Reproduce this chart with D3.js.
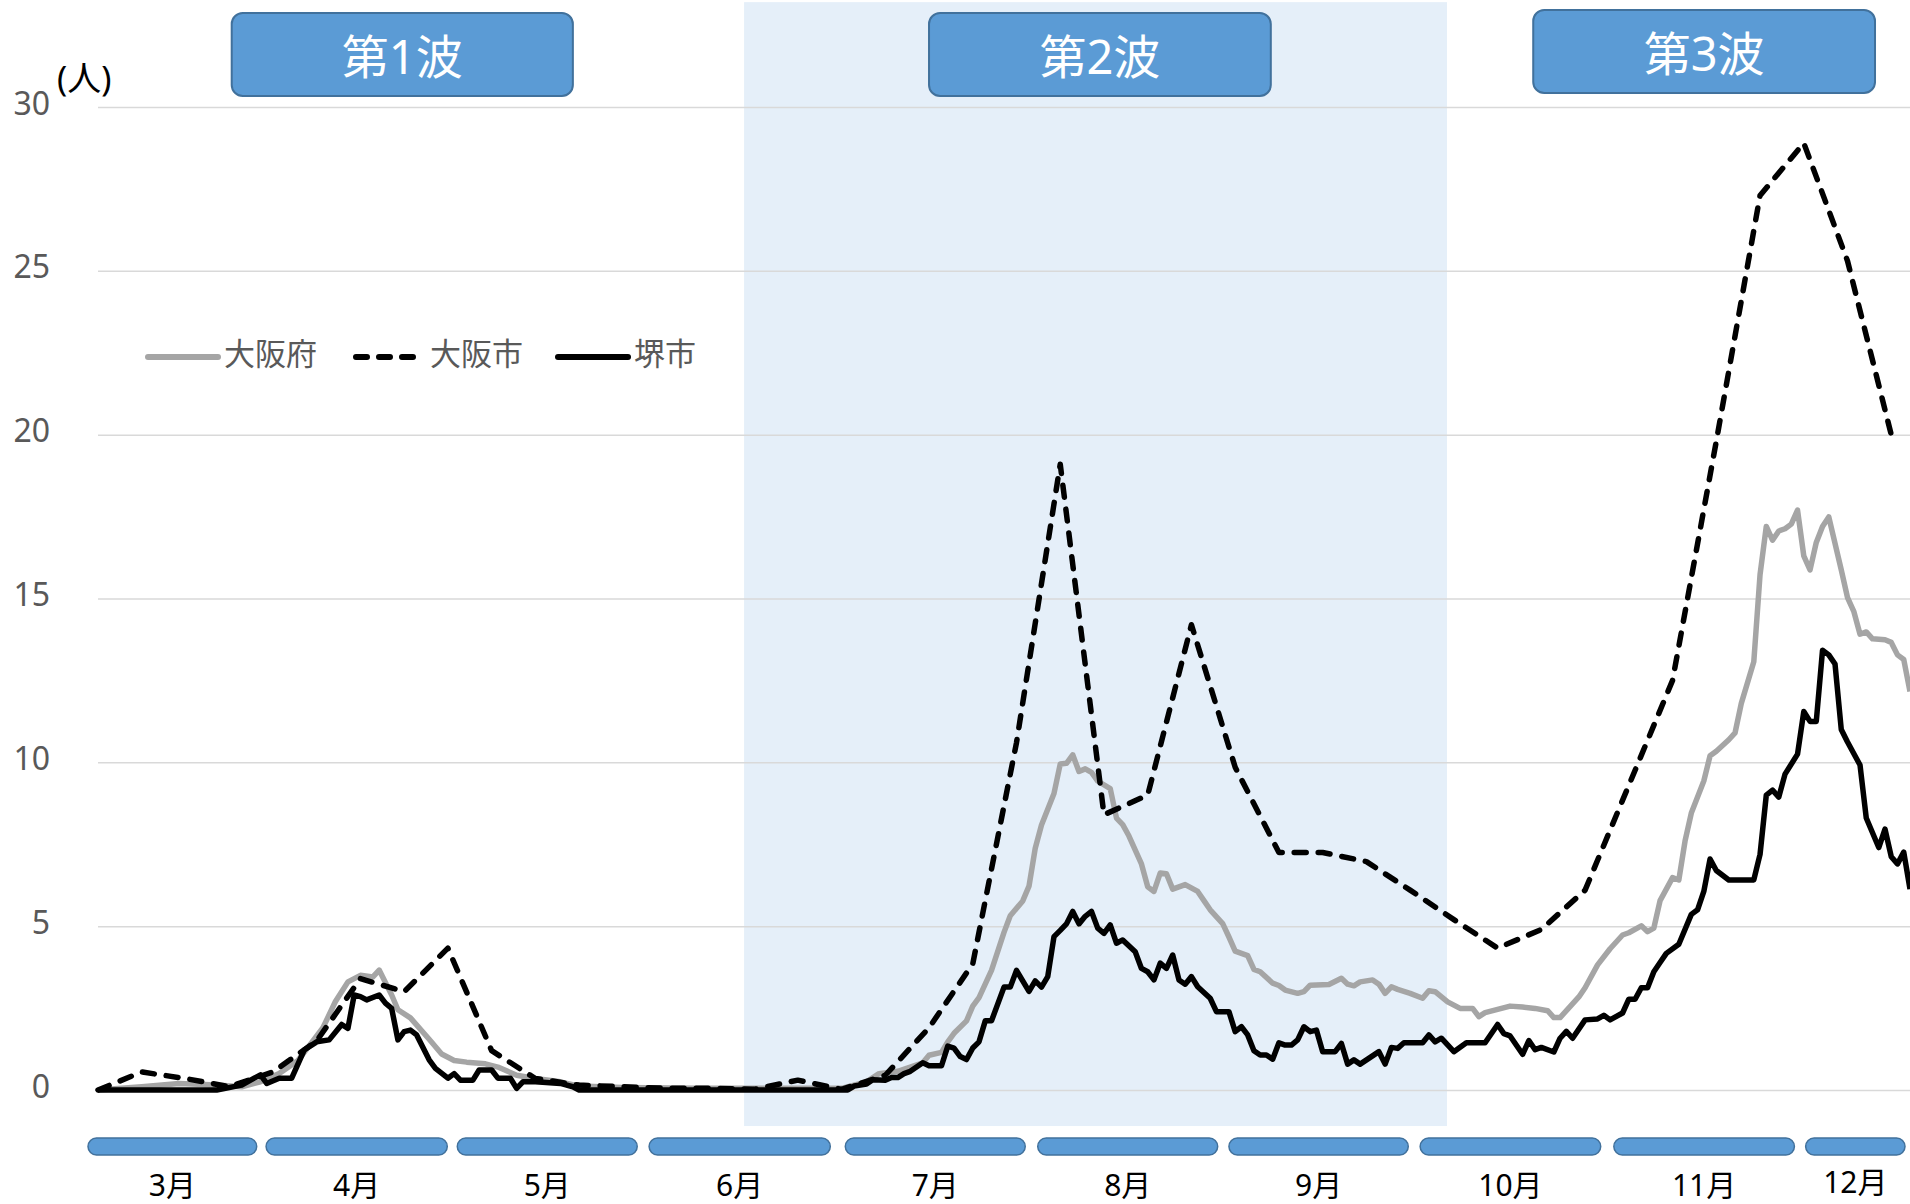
<!DOCTYPE html>
<html>
<head>
<meta charset="utf-8">
<script src="https://cdn.jsdelivr.net/npm/d3@7"></script>
<style>
  body { margin: 0; background: #fff; }
</style>
</head>
<body>
<script>
// 日付は 0 = 系列の始まり（日単位）
const fuData = [[0,0],[7,0.1],[13,0.2],[19,0.15],[23,0.1],[26,0.25],[29,0.5],[32,0.9],[34,1.4],[36,1.9],[38,2.7],[40,3.3],[42,3.5],[44,3.45],[45,3.66],[47,2.9],[48,2.45],[50,2.2],[53,1.55],[55,1.1],[57,0.9],[59,0.85],[62,0.8],[64,0.7],[67,0.45],[70,0.35],[74,0.25],[77,0.12],[84,0.08],[96,0.05],[106,0.05],[119,0.05],[123,0.25],[125,0.5],[128,0.57],[132,0.83],[133,1.06],[135,1.15],[136,1.47],[137,1.73],[139,2.11],[140,2.56],[141,2.82],[143,3.65],[145,4.81],[146,5.32],[148,5.77],[149,6.22],[150,7.38],[151,8.09],[153,9.05],[154,9.95],[155,9.97],[156,10.23],[157,9.72],[158,9.8],[159,9.69],[160,9.43],[162,9.2],[163,8.3],[164,8.1],[165,7.75],[167,6.9],[168,6.2],[169,6.06],[170,6.62],[171,6.6],[172,6.13],[174,6.27],[176,6.06],[177,5.78],[178,5.5],[180,5.08],[181,4.67],[182,4.24],[184,4.1],[185,3.68],[186,3.61],[188,3.26],[189,3.19],[190,3.05],[192,2.95],[193,3.0],[194,3.2],[197,3.22],[199,3.41],[200,3.23],[201,3.18],[202,3.3],[204,3.36],[205,3.23],[206,2.95],[207,3.15],[208,3.07],[210,2.95],[212,2.8],[213,3.03],[214,3.0],[216,2.69],[218,2.49],[220,2.49],[221,2.24],[222,2.36],[224,2.46],[226,2.56],[228,2.53],[230,2.49],[232,2.42],[233,2.21],[234,2.21],[237,2.84],[238,3.12],[240,3.82],[242,4.31],[244,4.73],[245,4.8],[247,5.01],[248,4.83],[249,4.94],[250,5.78],[252,6.48],[253,6.41],[254,7.6],[255,8.45],[257,9.43],[258,10.2],[259,10.34],[261,10.69],[262,10.9],[263,11.8],[265,13.07],[266,15.73],[267,17.2],[268,16.78],[269,17.06],[270,17.13],[271,17.27],[272,17.7],[273,16.3],[274,15.87],[275,16.71],[276,17.2],[277,17.49],[279,15.87],[280,15.03],[281,14.61],[282,13.91],[283,13.98],[284,13.77],[286,13.74],[287,13.66],[288,13.28],[289,13.14],[290,12.16]];

const shiData = [[0,0],[7,0.55],[14,0.35],[21,0.1],[28,0.55],[35,1.5],[42,3.4],[49,3.0],[56,4.33],[63,1.2],[70,0.35],[77,0.15],[84,0.1],[91,0.05],[98,0.05],[105,0.02],[112,0.3],[119,0.02],[126,0.45],[133,1.9],[140,3.85],[147,10.6],[154,19.1],[161,8.4],[168,9.0],[175,14.2],[182,9.85],[189,7.25],[196,7.25],[203,6.97],[210,6.1],[217,5.2],[224,4.33],[231,4.9],[238,6.1],[245,9.3],[252,12.5],[259,19.8],[266,27.3],[273,28.9],[280,25.3],[287,20.0]];

const sakaiData = [[0,0],[19,0],[23,0.15],[25,0.36],[26,0.46],[27,0.2],[29,0.36],[31,0.36],[33,1.22],[35,1.47],[37,1.53],[39,2.0],[40,1.88],[41,2.9],[42,2.85],[43,2.75],[45,2.9],[46,2.65],[47,2.49],[48,1.53],[49,1.78],[50,1.83],[51,1.68],[53,0.92],[54,0.66],[56,0.36],[57,0.5],[58,0.3],[60,0.3],[61,0.61],[63,0.61],[64,0.36],[66,0.36],[67,0.05],[68,0.25],[70,0.25],[74,0.2],[76,0.1],[77,0],[120,0],[121,0.12],[123,0.18],[124,0.31],[126,0.3],[127,0.38],[128,0.38],[129,0.5],[130,0.57],[132,0.83],[133,0.74],[135,0.74],[136,1.34],[137,1.28],[138,1.02],[139,0.93],[140,1.28],[141,1.47],[142,2.11],[143,2.11],[145,3.14],[146,3.14],[147,3.65],[149,3.01],[150,3.33],[151,3.14],[152,3.46],[153,4.68],[154,4.87],[155,5.07],[156,5.45],[157,5.07],[158,5.3],[159,5.45],[160,4.94],[161,4.78],[162,5.04],[163,4.48],[164,4.58],[166,4.22],[167,3.71],[168,3.61],[169,3.36],[170,3.87],[171,3.71],[172,4.12],[173,3.36],[174,3.23],[175,3.46],[176,3.15],[178,2.8],[179,2.39],[181,2.39],[182,1.78],[183,1.93],[184,1.68],[185,1.2],[186,1.07],[187,1.07],[188,0.94],[189,1.44],[190,1.37],[191,1.37],[192,1.53],[193,1.93],[194,1.78],[195,1.83],[196,1.17],[198,1.17],[199,1.42],[200,0.79],[201,0.92],[202,0.79],[205,1.17],[206,0.79],[207,1.3],[208,1.27],[209,1.44],[212,1.44],[213,1.68],[214,1.47],[215,1.58],[217,1.17],[219,1.44],[222,1.44],[224,2.0],[225,1.72],[226,1.65],[228,1.09],[229,1.51],[230,1.23],[231,1.3],[233,1.16],[234,1.58],[235,1.79],[236,1.58],[238,2.14],[240,2.17],[241,2.28],[242,2.14],[244,2.35],[245,2.77],[246,2.77],[247,3.12],[248,3.12],[249,3.61],[250,3.89],[251,4.17],[253,4.45],[255,5.36],[256,5.5],[257,6.06],[258,7.05],[259,6.7],[261,6.41],[265,6.41],[266,7.19],[267,9.0],[268,9.15],[269,8.94],[270,9.64],[272,10.25],[273,11.55],[274,11.25],[275,11.25],[276,13.42],[277,13.28],[278,13.0],[279,11.0],[280,10.62],[282,9.92],[283,8.3],[285,7.4],[286,7.96],[287,7.12],[288,6.9],[289,7.26],[290,6.13]];

// 月の帯（開始日, 終了日）とラベル
const months = ["3月","4月","5月","6月","7月","8月","9月","10月","11月","12月"];
const monthSpans = [[-1.6,25.4],[26.9,55.9],[57.5,86.3],[88.2,117.2],[119.6,148.4],[150.4,179.2],[181,209.7],[211.6,240.5],[242.6,271.5],[273.3,289.2]];

// 波のラベル
const waves = ["第1波","第2波","第3波"];
const waveSpans = [[21.4,76.0],[133.0,187.7],[229.7,284.4]];
const shadeSpan = [103.4, 215.9];

const yTicks = [0,5,10,15,20,25,30];

const W = 1910, H = 1204;
const font = "'Noto Sans', 'Noto Sans CJK JP', sans-serif";

const svg = d3.select("body").append("svg")
    .attr("width", W)
    .attr("height", H)
    .style("font-family", font);

const x = d3.scaleLinear().domain([0, 290]).range([98, 1910]);
const y = d3.scaleLinear().domain([0, 30]).range([1090, 107]);

// 第2波の背景
svg.append("rect")
    .attr("x", x(shadeSpan[0]))
    .attr("y", y(33.2))
    .attr("width", x(shadeSpan[1]) - x(shadeSpan[0]))
    .attr("height", y(-1.1) - y(33.2))
    .attr("fill", "#e5eff9");

// 目盛りと補助線
const yAxis = svg.append("g")
    .attr("transform", "translate(98,0)")
    .call(d3.axisLeft(y).tickValues(yTicks).tickSizeInner(-(1910 - 98)).tickSizeOuter(0).tickPadding(48));
yAxis.select(".domain").remove();
yAxis.selectAll(".tick line").attr("stroke", "#d9d9d9").attr("stroke-width", 1.5);
yAxis.selectAll(".tick text")
    .attr("dy", "0.22em")
    .style("font-size", "32px")
    .style("font-family", font)
    .attr("fill", "#595959");

svg.append("text")
    .attr("x", 57)
    .attr("y", 91)
    .style("font-size", "34px")
    .attr("fill", "#000")
    .text("(人)");

// 折れ線
const line = d3.line().x(d => x(d[0])).y(d => y(d[1]));

svg.append("path")
    .datum(fuData)
    .attr("d", line)
    .attr("fill", "none")
    .attr("stroke", "#a5a5a5")
    .attr("stroke-width", 5.5)
    .attr("stroke-linejoin", "round");

svg.append("path")
    .datum(shiData)
    .attr("d", line)
    .attr("fill", "none")
    .attr("stroke", "#000")
    .attr("stroke-width", 5.5)
    .attr("stroke-linecap", "round")
    .attr("stroke-linejoin", "round")
    .attr("stroke-dasharray", "12,12");

svg.append("path")
    .datum(sakaiData)
    .attr("d", line)
    .attr("fill", "none")
    .attr("stroke", "#000")
    .attr("stroke-width", 5.5)
    .attr("stroke-linejoin", "round");

// 凡例
const legend = [
    {name: "大阪府", x: 148, len: 70, color: "#a5a5a5", dash: null},
    {name: "大阪市", x: 356, len: 60, color: "#000", dash: "11,12"},
    {name: "堺市", x: 558, len: 70, color: "#000", dash: null}
];
const lg = svg.append("g");
legend.forEach(d => {
    lg.append("line")
        .attr("x1", d.x).attr("x2", d.x + d.len)
        .attr("y1", 357).attr("y2", 357)
        .attr("stroke", d.color)
        .attr("stroke-width", 6)
        .attr("stroke-linecap", "round")
        .attr("stroke-dasharray", d.dash);
    lg.append("text")
        .attr("x", d.x + d.len + (d.dash ? 14 : 6))
        .attr("y", 353)
        .attr("dominant-baseline", "central")
        .style("font-size", "31px")
        .attr("fill", "#595959")
        .text(d.name);
});

// 波ラベルの箱
waves.forEach((w, i) => {
    const g = svg.append("g");
    const x0 = x(waveSpans[i][0]), x1 = x(waveSpans[i][1]);
    const top = i == 2 ? 10 : 13;
    g.append("rect")
        .attr("x", x0).attr("y", top)
        .attr("width", x1 - x0).attr("height", 83)
        .attr("rx", 11)
        .attr("fill", "#5b9bd5")
        .attr("stroke", "#41719c")
        .attr("stroke-width", 2);
    g.append("text")
        .attr("x", (x0 + x1) / 2)
        .attr("y", top + 43)
        .attr("text-anchor", "middle")
        .attr("dominant-baseline", "central")
        .style("font-size", "47px")
        .attr("fill", "#fff")
        .text(w);
});

// 月の帯とラベル
months.forEach((m, i) => {
    const x0 = x(monthSpans[i][0]), x1 = x(monthSpans[i][1]);
    svg.append("rect")
        .attr("x", x0).attr("y", 1138)
        .attr("width", x1 - x0).attr("height", 17)
        .attr("rx", 8.5)
        .attr("fill", "#5b9bd5")
        .attr("stroke", "#41719c")
        .attr("stroke-width", 1.5);
    svg.append("text")
        .attr("x", (x0 + x1) / 2)
        .attr("y", i == 9 ? 1193 : 1196)
        .attr("text-anchor", "middle")
        .style("font-size", "30px")
        .attr("fill", "#000")
        .text(m);
});
</script>
</body>
</html>
